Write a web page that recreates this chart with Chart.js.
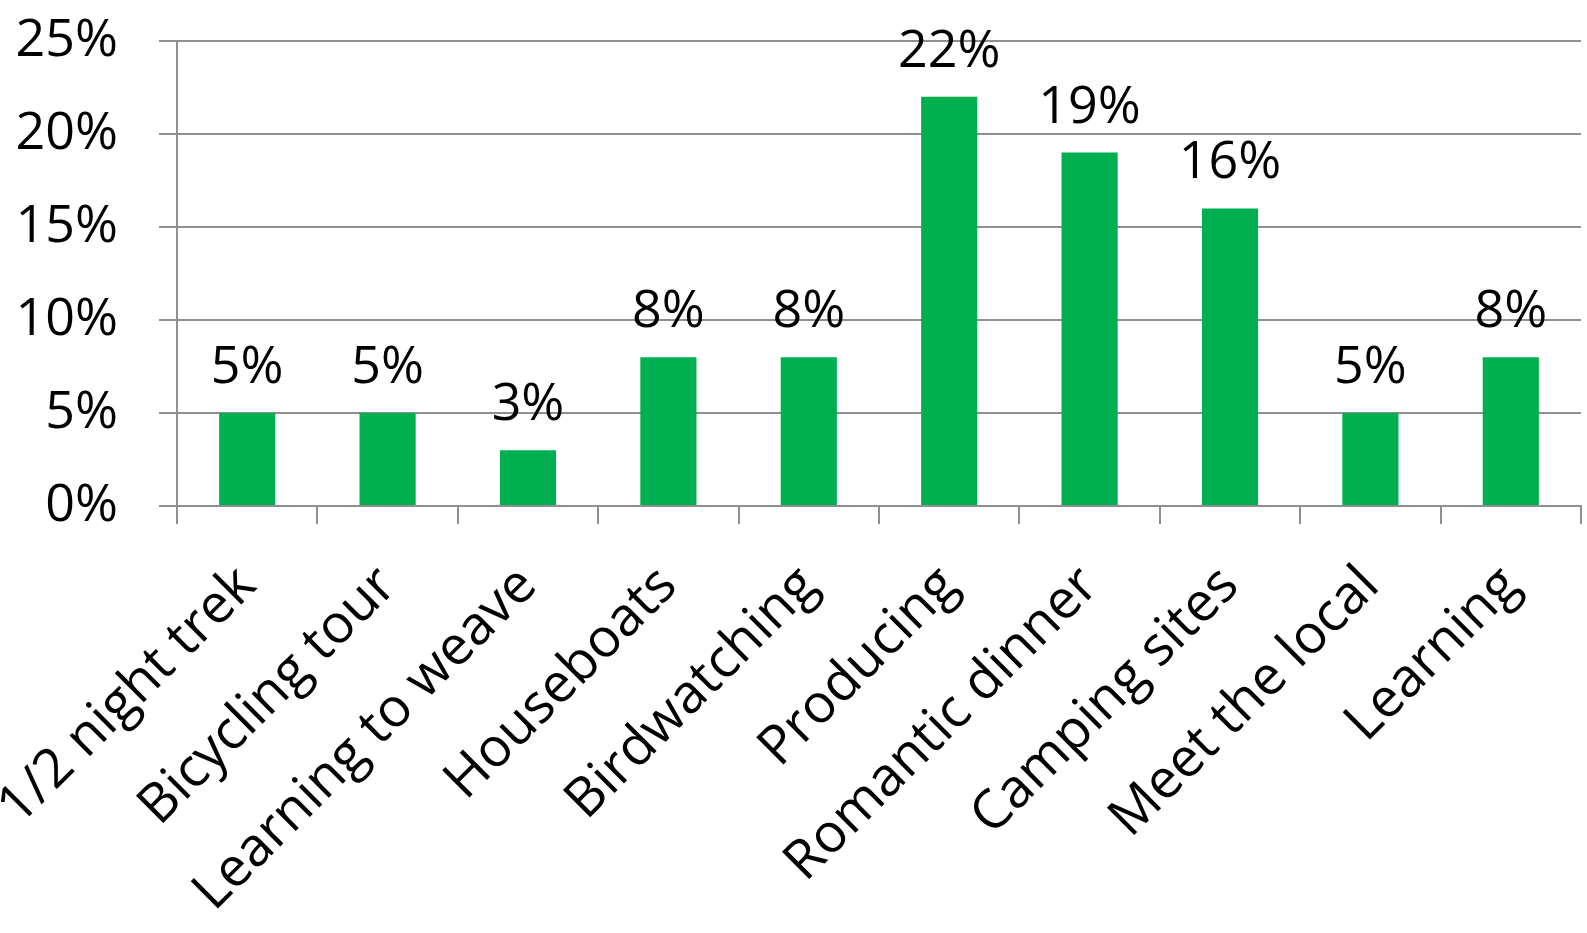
<!DOCTYPE html>
<html>
<head>
<meta charset="utf-8">
<script src="https://cdn.jsdelivr.net/npm/chart.js@4/dist/chart.umd.min.js"></script>
<style>
  html, body { margin: 0; padding: 0; background: #fff; }
  canvas { display: block; }
</style>
</head>
<body>
<canvas id="activityChart" width="1587" height="933"></canvas>
<script>
const categories = [
    '1/2 night trek', 'Bicycling tour', 'Learning to weave', 'Houseboats', 'Birdwatching',
    'Producing', 'Romantic dinner', 'Camping sites', 'Meet the local', 'Learning'
];
const shares = [5, 5, 3, 8, 8, 22, 19, 16, 5, 8];
const yTicks = [0, 5, 10, 15, 20, 25];

const FONT = "'Open Sans', 'Noto Sans', sans-serif";
const GRID = '#8f8f8f';

// value labels above each bar
const barLabels = {
    id: 'barLabels',
    afterDatasetsDraw(chart) {
        const ctx = chart.ctx;
        const meta = chart.getDatasetMeta(0);
        ctx.save();
        ctx.font = `52px ${FONT}`;
        ctx.fillStyle = '#000';
        ctx.textAlign = 'center';
        ctx.textBaseline = 'alphabetic';
        meta.data.forEach((bar, i) => {
            ctx.fillText(shares[i] + '%', bar.x, bar.y - 30);
        });
        ctx.restore();
    }
};

new Chart(document.getElementById('activityChart'), {
    type: 'bar',
    data: {
        labels: categories,
        datasets: [{
            data: shares,
            backgroundColor: '#00b050',
            borderWidth: 0,
            barPercentage: 0.8,
            categoryPercentage: 0.5
        }]
    },
    options: {
        responsive: false,
        animation: false,
        layout: { padding: { top: 41, right: 6, left: 0, bottom: 0 } },
        plugins: {
            legend: { display: false },
            tooltip: { enabled: false }
        },
        scales: {
            x: {
                grid: {
                    offset: true,
                    drawOnChartArea: false,
                    drawTicks: true,
                    tickLength: 18,
                    color: GRID,
                    lineWidth: 2
                },
                border: { color: GRID, width: 2 },
                ticks: {
                    color: '#000',
                    font: { family: FONT, size: 54 },
                    minRotation: 45,
                    maxRotation: 45,
                    autoSkip: false,
                    padding: 30
                },
                afterFit(scale) {
                    scale.height = 427;
                    scale.paddingLeft = 0;
                    scale.paddingTop = 0;
                    scale.paddingRight = 0;
                }
            },
            y: {
                min: 0,
                max: 25,
                afterBuildTicks(scale) {
                    scale.ticks = yTicks.map(v => ({ value: v }));
                },
                grid: {
                    color: GRID,
                    lineWidth: 2,
                    tickLength: 18
                },
                border: { color: GRID, width: 2 },
                ticks: {
                    color: '#000',
                    font: { family: FONT, size: 52 },
                    padding: 41,
                    callback: v => v + '%'
                },
                afterFit(scale) {
                    scale.width = 177;
                    scale.paddingTop = 0;
                    scale.paddingBottom = 0;
                }
            }
        }
    },
    plugins: [barLabels]
});
</script>
</body>
</html>
